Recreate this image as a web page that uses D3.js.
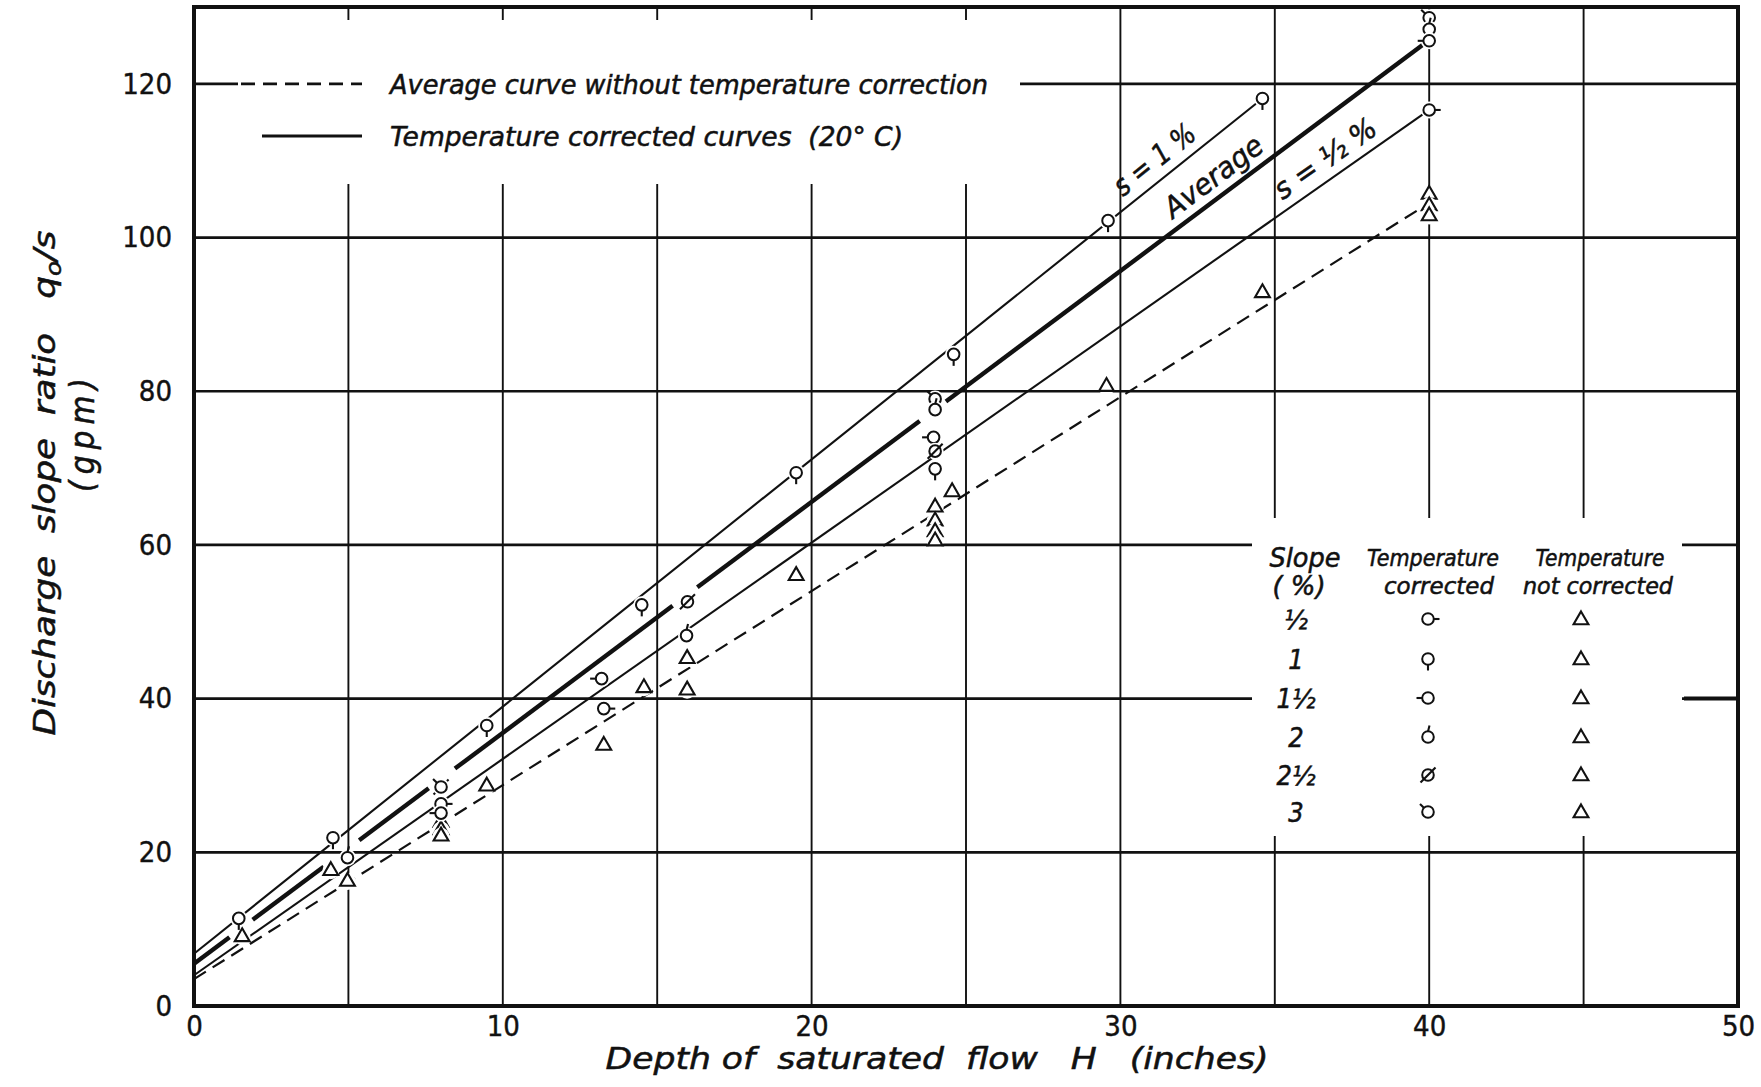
<!DOCTYPE html>
<html>
<head>
<meta charset="utf-8">
<script src="https://cdn.jsdelivr.net/npm/d3@7"></script>
<style>
body { margin: 0; background: #fff; }
text { font-family: "DejaVu Sans Condensed", "DejaVu Sans", sans-serif; fill: #111; }
.it { font-style: italic; stroke: #111; stroke-width: 0.5; }
</style>
</head>
<body>
<script>
// tick values
var xTicks = [0, 10, 20, 30, 40, 50];
var xGrid = [0, 5, 10, 15, 20, 25, 30, 35, 40, 45, 50];
var yTicks = [0, 20, 40, 60, 80, 100, 120];

// fitted curves, end points [H, q/s]
var curveS1 = [[0, 6.8], [34.6, 118.1]];        // s = 1 %
var curveAvg = [[0, 5.5], [40, 125.7]];         // average, corrected
var curveSHalf = [[0, 4.0], [40, 116.6]];       // s = 1/2 %
var curveUncorr = [[0, 3.5], [40, 104.5]];      // average without correction
var avgGaps = [[1.15, 1.9], [4.2, 5.35], [7.6, 8.45], [15.5, 16.3], [23.5, 24.35]];

// temperature corrected points [H, q/s, slope %]
var corrected = [
  [1.45, 11.4, 1], [4.5, 21.9, 1], [4.97, 19.3, 2], [8.0, 28.5, 2.5], [8.0, 28.5, 3],
  [8.0, 26.3, 0.5], [8.0, 25.1, 1.5], [9.48, 36.5, 1], [13.2, 42.6, 1.5], [13.27, 38.7, 0.5],
  [14.5, 52.2, 1], [15.98, 52.6, 2.5], [15.95, 48.2, 2], [19.5, 69.4, 1],
  [24.0, 79.0, 3], [24.0, 77.6, 2], [23.95, 74.0, 1.5], [24.0, 72.2, 2.5], [24.0, 69.9, 1],
  [24.6, 84.8, 1], [29.6, 102.2, 1], [34.6, 118.1, 1],
  [40, 128.6, 3], [40, 127.1, 2], [40, 125.6, 1.5], [40, 116.6, 0.5]
];

// not corrected points [H, q/s]
var uncorrected = [
  [1.56, 9.0], [4.43, 17.6], [4.97, 16.2], [8.0, 23.9], [8.0, 22.9], [8.0, 22.1],
  [9.48, 28.6], [13.27, 33.9], [14.57, 41.4], [15.97, 45.2], [15.97, 41.1], [19.5, 56.0],
  [24.0, 64.9], [24.0, 63.1], [24.0, 61.7], [24.0, 60.5], [24.55, 66.9], [29.55, 80.6],
  [34.6, 92.8], [40, 105.6], [40, 104.1], [40, 102.8]
];

// legend table
var slopeLabels = ["½", "1", "1½", "2", "2½", "3"];
var slopeValues = [0.5, 1, 1.5, 2, 2.5, 3];

var W = 1761, H = 1087;
var svg = d3.select("body").append("svg").attr("width", W).attr("height", H);

var x = d3.scaleLinear().domain([0, 50]).range([194, 1738]);
var y = d3.scaleLinear().domain([0, 130]).range([1006, 7]);
var ink = "#111";

// grid
svg.append("g").selectAll("line").data(xGrid).join("line")
  .attr("x1", d => x(d)).attr("x2", d => x(d))
  .attr("y1", y(0)).attr("y2", y(130))
  .attr("stroke", ink).attr("stroke-width", 1.9);
svg.append("g").selectAll("line").data(yTicks.slice(1)).join("line")
  .attr("x1", x(0)).attr("x2", x(50))
  .attr("y1", d => y(d)).attr("y2", d => y(d))
  .attr("stroke", ink).attr("stroke-width", 2.7);

// blank areas behind legends
svg.append("rect").attr("x", 238).attr("y", 20).attr("width", 782).attr("height", 164).attr("fill", "#fff");
svg.append("rect").attr("x", 1252).attr("y", 518).attr("width", 430).attr("height", 318).attr("fill", "#fff");
svg.append("line").attr("x1", 1684).attr("x2", x(50)).attr("y1", y(40)).attr("y2", y(40))
  .attr("stroke", ink).attr("stroke-width", 4);

// frame
svg.append("rect").attr("x", x(0)).attr("y", y(130))
  .attr("width", x(50) - x(0)).attr("height", y(0) - y(130))
  .attr("fill", "none").attr("stroke", ink).attr("stroke-width", 4);

// axes (labels only)
var gx = svg.append("g").attr("transform", "translate(0," + y(0) + ")")
  .call(d3.axisBottom(x).tickValues(xTicks).tickSize(0).tickPadding(9).tickFormat(d3.format("d")));
var gy = svg.append("g").attr("transform", "translate(" + x(0) + ",0)")
  .call(d3.axisLeft(y).tickValues(yTicks).tickSize(0).tickPadding(22).tickFormat(d3.format("d")));
[gx, gy].forEach(function (g) {
  g.select(".domain").remove();
  g.selectAll("text").attr("font-family", "DejaVu Sans Condensed, DejaVu Sans, sans-serif")
    .attr("font-size", 29).attr("fill", ink).attr("stroke", ink).attr("stroke-width", 0.4);
});

// axis titles
svg.append("text").attr("class", "it").attr("x", 937).attr("y", 1069)
  .attr("text-anchor", "middle").attr("font-size", 31)
  .attr("textLength", 663).attr("lengthAdjust", "spacingAndGlyphs")
  .style("white-space", "pre")
  .text("Depth of  saturated  flow   H   (inches)");
var yt = svg.append("text").attr("class", "it").attr("font-size", 31)
  .attr("text-anchor", "middle").attr("transform", "translate(55,483) rotate(-90)")
  .attr("textLength", 505).attr("lengthAdjust", "spacingAndGlyphs")
  .style("white-space", "pre");
yt.append("tspan").text("Discharge  slope  ratio   q");
yt.append("tspan").attr("font-size", 21).attr("dy", 6).text("o");
yt.append("tspan").attr("dy", -6).text("/s");
svg.append("text").attr("class", "it").attr("font-size", 33)
  .attr("text-anchor", "middle").attr("transform", "translate(94,432) rotate(-90)")
  .attr("letter-spacing", 6)
  .text("(gpm)");

// markers
var tails = {
  0.5: [[5.5, 0], [11.5, 0]],
  1: [[0, 5.5], [0, 11.5]],
  1.5: [[-5.5, 0], [-11.5, 0]],
  2: [[0, -5.5], [1.5, -11.5]],
  2.5: [[-7.5, 7.5], [7.5, -7.5]],
  3: [[-3.9, -3.9], [-8, -8]]
};
function circleMarker(g, cx, cy, slope, halo) {
  var m = g.append("g").attr("transform", "translate(" + cx + "," + cy + ")");
  if (halo) m.append("circle").attr("r", 8.5).attr("fill", "#fff");
  m.append("circle").attr("r", 5.8).attr("fill", "#fff").attr("stroke", ink).attr("stroke-width", 2);
  var t = tails[slope];
  m.append("line").attr("x1", t[0][0]).attr("y1", t[0][1]).attr("x2", t[1][0]).attr("y2", t[1][1])
    .attr("stroke", ink).attr("stroke-width", 2.1);
}
var tri = d3.symbol().type(d3.symbolTriangle).size(95);
function triMarker(g, cx, cy, halo) {
  var m = g.append("g").attr("transform", "translate(" + cx + "," + cy + ")");
  if (halo) m.append("circle").attr("r", 8.5).attr("fill", "#fff");
  m.append("path").attr("d", tri()).attr("fill", "#fff").attr("stroke", ink).attr("stroke-width", 2.1);
}

// curves
var line = d3.line().x(d => x(d[0])).y(d => y(d[1]));
function at(c, xv) {
  var t = (xv - c[0][0]) / (c[1][0] - c[0][0]);
  return [xv, c[0][1] + t * (c[1][1] - c[0][1])];
}
svg.append("path").datum(curveS1).attr("d", line).attr("fill", "none").attr("stroke", ink).attr("stroke-width", 2.1);
svg.append("path").datum(curveSHalf).attr("d", line).attr("fill", "none").attr("stroke", ink).attr("stroke-width", 2.1);
svg.append("path").datum(curveUncorr).attr("d", line).attr("fill", "none").attr("stroke", ink)
  .attr("stroke-width", 2.2).attr("stroke-dasharray", "14,8");
var bounds = [curveAvg[0][0]];
avgGaps.forEach(function (g) { bounds.push(g[0], g[1]); });
bounds.push(curveAvg[1][0]);
for (var i = 0; i < bounds.length; i += 2) {
  svg.append("path").datum([at(curveAvg, bounds[i]), at(curveAvg, bounds[i + 1])])
    .attr("d", line).attr("fill", "none").attr("stroke", ink).attr("stroke-width", 4.4);
}

// points
var pts = svg.append("g");
uncorrected.forEach(function (d) { triMarker(pts, x(d[0]), y(d[1]), true); });
corrected.forEach(function (d) { circleMarker(pts, x(d[0]), y(d[1]), d[2], true); });

// curve labels
function curveLabel(c, xv, txt, len) {
  var p = at(c, xv);
  var ang = Math.atan2(y(c[1][1]) - y(c[0][1]), x(c[1][0]) - x(c[0][0])) * 180 / Math.PI;
  svg.append("text").attr("class", "it").attr("font-size", 29).attr("text-anchor", "middle")
    .attr("transform", "translate(" + x(p[0]) + "," + y(p[1]) + ") rotate(" + ang + ")")
    .attr("dy", -10).attr("textLength", len).attr("lengthAdjust", "spacingAndGlyphs")
    .style("white-space", "pre").text(txt);
}
curveLabel(curveS1, 31.5, "s = 1 %", 96);
curveLabel(curveAvg, 33.4, "Average", 116);
curveLabel(curveSHalf, 37.0, "s = ½ %", 118);

// top legend
svg.append("line").attr("x1", 241).attr("x2", 362).attr("y1", y(120)).attr("y2", y(120))
  .attr("stroke", ink).attr("stroke-width", 2.6).attr("stroke-dasharray", "14,8");
svg.append("line").attr("x1", 262).attr("x2", 362).attr("y1", 136).attr("y2", 136)
  .attr("stroke", ink).attr("stroke-width", 3);
svg.append("text").attr("class", "it").attr("x", 390).attr("y", 94).attr("font-size", 27)
  .attr("textLength", 598).attr("lengthAdjust", "spacingAndGlyphs")
  .text("Average curve without temperature correction");
svg.append("text").attr("class", "it").attr("x", 390).attr("y", 146).attr("font-size", 27)
  .attr("textLength", 513).attr("lengthAdjust", "spacingAndGlyphs")
  .style("white-space", "pre")
  .text("Temperature corrected curves  (20° C)");

// table legend
function tlabel(cx, cy, txt, size, len) {
  svg.append("text").attr("class", "it").attr("x", cx).attr("y", cy).attr("font-size", size)
    .attr("text-anchor", "middle").attr("textLength", len).attr("lengthAdjust", "spacingAndGlyphs")
    .style("white-space", "pre").text(txt);
}
tlabel(1305, 567, "Slope", 26, 71);
tlabel(1299, 595, "( %)", 26, 53);
tlabel(1433, 566, "Temperature", 23, 132);
tlabel(1439, 594, "corrected", 23, 110);
tlabel(1600, 566, "Temperature", 23, 129);
tlabel(1598, 594, "not corrected", 23, 150);
var rowY = [619, 659, 698, 737, 775, 812];
slopeLabels.forEach(function (s, i) {
  svg.append("text").attr("class", "it").attr("x", 1296).attr("y", rowY[i] + 10)
    .attr("font-size", 27).attr("text-anchor", "middle").text(s);
  circleMarker(svg, 1428, rowY[i], slopeValues[i], false);
  triMarker(svg, 1581, rowY[i] + 1, false);
});
</script>
</body>
</html>
